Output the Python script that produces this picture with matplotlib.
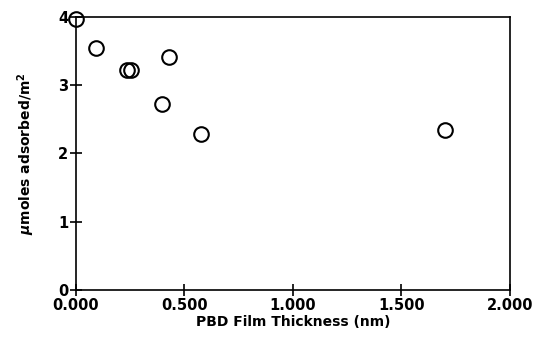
import matplotlib
matplotlib.use("Agg")
import matplotlib.pyplot as plt

# PBD film thickness (nm) vs umoles adsorbed / m^2
thickness = [0.0, 0.095, 0.234, 0.254, 0.429, 0.398, 0.577, 1.70]
adsorbed = [3.97, 3.55, 3.22, 3.22, 3.42, 2.72, 2.28, 2.34]

xticks = [0.0, 0.5, 1.0, 1.5, 2.0]
xticklabels = ["0.000", "0.500", "1.000", "1.500", "2.000"]
yticks = [0, 1, 2, 3, 4]

plt.rcParams["font.family"] = ["DejaVu Sans"]
plt.rcParams["font.weight"] = "bold"

fig = plt.figure(figsize=(5.34, 3.38), dpi=100)
ax = fig.add_axes([0.142, 0.142, 0.813, 0.808])
ax.plot(thickness, adsorbed, "o", mfc="none", mec="black", ms=10.5, mew=1.5,
        clip_on=False)
ax.set_xlim(0, 2.0)
ax.set_ylim(0, 4)
ax.set_xticks(xticks)
ax.set_xticklabels(xticklabels)
ax.set_yticks(yticks)
ax.tick_params(direction="inout", length=9, width=1.2, labelsize=10.5, pad=1)
for s in ax.spines.values():
    s.set_linewidth(1.2)
ax.set_xlabel("PBD Film Thickness (nm)", fontsize=10, fontweight="bold", labelpad=2)
ax.set_ylabel(r"$\mu$moles adsorbed/m$^{\mathbf{2}}$", fontsize=10,
              fontweight="bold", labelpad=15)

fig.savefig("out.png", dpi=100)
